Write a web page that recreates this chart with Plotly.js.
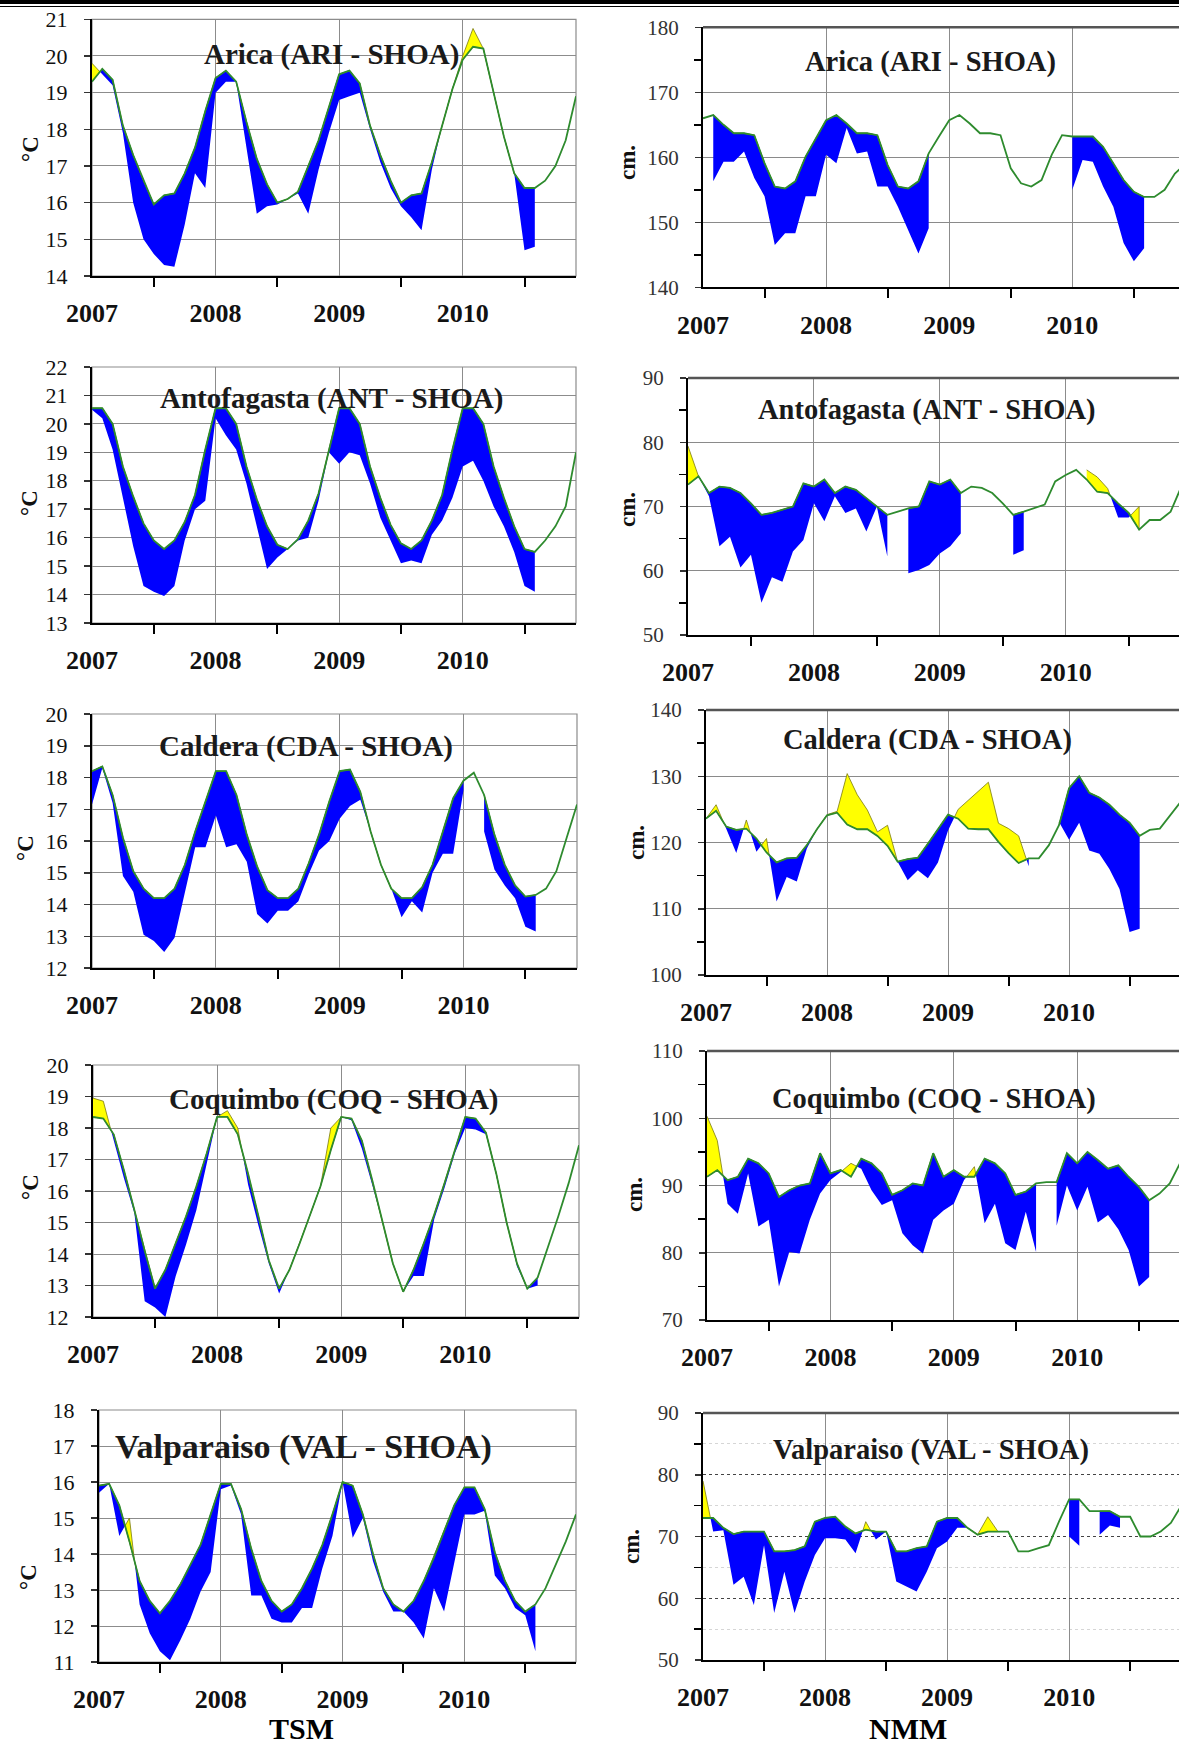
<!DOCTYPE html>
<html>
<head>
<meta charset="utf-8">
<script src="https://cdn.plot.ly/plotly-3.0.1.min.js"></script>
<style>
html,body{margin:0;padding:0;background:#fff;}
#chart{width:1179px;height:1747px;}
</style>
</head>
<body>
<div id="chart"></div>
<script>
// ---------- DATA ----------
// month index: 0 = Jan 2007 ... 47 = Dec 2010
const monthX = [0,1,2,3,4,5,6,7,8,9,10,11,12,13,14,15,16,17,18,19,20,21,22,23,24,25,26,27,28,29,30,31,32,33,34,35,36,37,38,39,40,41,42,43,44,45,46,47];
const yearTicks = [0,12,24,36];
const yearLabels = ['2007','2008','2009','2010'];
const midYearTicks = [6,18,30,42];

const stationTitles = ['Arica (ARI - SHOA)','Antofagasta (ANT - SHOA)','Caldera (CDA - SHOA)','Coquimbo (COQ - SHOA)','Valparaiso (VAL - SHOA)'];
const columnLabels = ['TSM','NMM'];
const unitTSM = '°C';
const unitNMM = 'cm.';

// ---- TSM (sea surface temperature, °C): climatology (green) and observed ----
const climAriTSM = [19.3,19.65,19.35,18.1,17.3,16.6,15.95,16.2,16.25,16.8,17.5,18.5,19.4,19.6,19.3,18.2,17.2,16.5,16.0,16.1,16.3,17.0,17.7,18.6,19.5,19.6,19.25,18.1,17.3,16.6,16.0,16.2,16.25,17.1,18.1,19.1,19.9,20.25,20.2,19.0,17.8,16.8,16.4,16.4,16.6,17.0,17.7,18.9];
const obsAriTSM  = [19.8,19.5,19.2,17.9,16.0,15.0,14.6,14.3,14.25,15.4,16.8,16.4,19.0,19.3,19.3,17.5,15.7,15.9,15.95,16.1,16.25,15.7,16.9,17.9,18.8,18.9,19.0,18.0,17.1,16.4,15.9,15.6,15.25,16.9,18.1,19.1,20.0,20.75,20.2,19.0,17.8,16.8,14.7,14.8,null,null,null,null];

const climAntTSM = [20.55,20.55,20.0,18.5,17.45,16.5,15.9,15.6,15.9,16.55,17.5,19.1,20.55,20.55,20.0,18.5,17.35,16.4,15.75,15.6,15.95,16.6,17.55,19.1,20.55,20.55,20.0,18.5,17.4,16.45,15.8,15.6,15.9,16.6,17.5,19.1,20.55,20.55,20.0,18.5,17.4,16.4,15.6,15.5,15.9,16.4,17.1,19.0];
const obsAntTSM  = [20.5,20.2,19.1,17.4,15.7,14.3,14.1,13.95,14.3,15.9,17.0,17.3,20.2,19.6,19.1,17.9,16.4,14.9,15.3,15.6,15.9,16.0,17.3,19.0,18.6,19.0,18.9,17.9,16.7,15.9,15.1,15.2,15.1,16.1,16.6,17.4,18.5,18.7,18.0,17.1,16.4,15.5,14.3,14.1,null,null,null,null];

const climCdaTSM = [18.2,18.35,17.45,16.1,15.05,14.5,14.2,14.2,14.5,15.25,16.3,17.25,18.2,18.2,17.45,16.2,15.2,14.45,14.2,14.2,14.5,15.3,16.2,17.25,18.2,18.25,17.55,16.3,15.25,14.5,14.2,14.2,14.55,15.25,16.3,17.35,17.9,18.15,17.45,16.2,15.25,14.6,14.25,14.3,14.5,15.05,16.1,17.15];
const obsCdaTSM  = [17.15,18.3,17.2,14.9,14.4,13.05,12.85,12.5,12.95,14.4,15.8,15.8,16.8,15.8,15.9,15.35,13.7,13.4,13.8,13.8,14.1,14.95,15.7,16.0,16.7,17.1,17.3,16.3,15.25,14.5,13.6,14.1,13.75,15.0,15.6,15.6,17.6,null,16.3,15.1,14.6,14.2,13.3,13.15,null,null,null,null];

const climCoqTSM = [18.35,18.3,17.8,16.65,15.4,14.1,12.9,13.5,14.35,15.2,16.15,17.2,18.35,18.35,17.8,16.55,15.2,13.8,12.9,13.5,14.35,15.25,16.15,17.3,18.35,18.3,17.6,16.35,15.0,13.7,12.8,13.5,14.35,15.25,16.25,17.3,18.35,18.3,17.85,16.55,15.0,13.7,12.9,13.25,14.2,15.2,16.25,17.45];
const obsCoqTSM  = [18.95,18.85,17.6,16.4,15.3,12.5,12.3,12.0,13.3,14.3,15.4,16.9,18.35,18.55,18.0,16.2,14.9,13.7,12.75,13.5,14.35,15.25,16.15,18.0,18.35,18.25,17.35,16.2,15.0,13.7,12.8,13.3,13.3,15.1,16.1,17.2,18.0,17.95,17.8,16.5,15.0,13.6,12.9,13.0,null,null,null,null];

const climValTSM = [15.9,15.95,15.35,14.35,13.25,12.7,12.35,12.7,13.15,13.7,14.25,15.1,15.95,15.95,15.25,14.15,13.25,12.7,12.4,12.6,13.05,13.6,14.25,15.1,16.0,15.9,15.1,14.0,13.05,12.6,12.4,12.7,13.25,13.9,14.65,15.35,15.85,15.85,15.25,14.05,13.25,12.7,12.4,12.6,13.05,13.7,14.35,15.1];
const obsValTSM  = [15.7,15.95,14.5,15.0,12.6,11.8,11.3,11.05,11.6,12.2,12.95,13.5,15.8,15.9,15.1,12.85,12.85,12.2,12.1,12.1,12.5,12.5,13.6,14.5,16.0,14.45,15.0,13.8,12.95,12.4,12.4,12.1,11.65,13.05,12.4,13.8,15.1,15.1,15.2,13.4,13.05,12.5,12.3,11.3,null,null,null,null];

// ---- NMM (mean sea level, cm): climatology (green) and observed ----
const climAriNMM = [166.0,166.5,165.0,163.7,163.7,163.4,159.1,155.5,155.2,156.3,160.1,162.9,165.7,166.5,165.2,163.7,163.7,163.4,158.8,155.5,155.2,156.3,160.6,163.2,165.7,166.5,165.2,163.7,163.7,163.4,158.3,156.0,155.5,156.5,160.4,163.4,163.2,163.2,163.2,161.6,159.1,156.5,154.7,153.9,153.9,155.0,157.5,159.0];
const obsAriNMM  = [null,156.3,159.3,159.3,160.9,156.8,154.0,146.5,148.3,148.3,154.0,154.0,160.4,159.1,164.5,160.6,160.9,155.5,155.5,152.4,148.8,145.2,149.1,null,null,null,null,null,null,null,null,null,null,null,null,null,155.0,159.6,159.3,155.5,152.4,146.8,144.0,146.0,null,null,null,null];

const climAntNMM = [73.4,74.7,72.1,73.1,72.9,72.1,70.5,68.7,69.0,69.5,70.0,73.6,73.1,74.2,72.1,73.1,72.6,71.3,70.0,68.7,69.2,69.7,70.0,73.9,73.4,74.2,72.1,73.1,72.9,72.1,70.5,68.7,69.2,69.7,70.3,73.9,74.9,75.7,74.2,72.3,72.1,70.5,69.0,66.4,67.9,67.9,69.2,73.0];
const obsAntNMM  = [79.4,74.7,71.6,63.8,65.3,60.5,62.5,55.0,59.0,58.3,63.0,64.8,70.5,67.7,71.6,69.0,69.7,66.1,70.0,62.2,null,59.6,60.1,60.9,62.7,63.8,65.8,null,null,null,null,62.5,63.2,null,null,null,null,null,75.7,74.6,72.8,68.3,68.3,70.0,null,null,null,null];

const climCdaNMM = [123.6,124.8,122.4,121.9,122.1,120.6,118.5,117.0,117.6,117.7,119.6,122.0,124.1,124.5,122.7,122.0,122.0,121.0,119.5,117.1,117.5,117.7,119.8,122.0,124.2,123.6,122.1,122.0,122.0,120.1,118.4,116.9,117.6,117.6,119.6,122.6,128.2,130.0,127.5,126.8,125.7,124.2,123.0,121.0,121.9,122.1,124.0,126.0];
const obsCdaNMM  = [123.6,125.7,122.1,118.4,123.4,118.6,120.6,111.1,114.8,114.1,119.1,122.0,124.2,124.7,130.4,127.2,124.9,121.6,122.6,117.1,114.3,115.8,114.6,117.0,121.8,125.0,126.4,127.8,129.1,122.9,122.1,121.0,116.4,null,null,123.1,120.4,123.0,118.8,118.3,116.0,113.0,106.5,107.0,null,null,null,null];

const climCoqNMM = [91.3,92.3,90.8,91.3,94.0,93.3,91.8,88.3,89.3,90.0,90.3,94.8,91.8,92.3,91.3,94.0,93.3,91.8,88.6,89.3,90.3,90.0,94.8,91.3,92.3,91.3,91.3,94.0,93.3,91.8,88.6,89.1,90.3,90.5,90.5,94.8,93.3,95.0,93.8,92.5,93.0,91.3,89.8,87.8,88.8,90.3,93.3,95.0];
const obsCoqNMM  = [100.3,96.7,87.3,85.8,91.8,83.9,84.9,75.0,80.1,79.9,84.9,88.8,90.8,92.0,93.3,92.5,89.3,87.1,87.8,82.9,81.1,79.9,84.9,86.3,87.3,90.8,92.8,84.4,87.3,81.4,80.4,86.1,80.1,null,84.0,90.0,86.3,89.8,84.5,85.6,83.5,80.4,75.0,76.4,null,null,null,null];

const climValNMM = [73.0,73.0,71.4,70.4,70.8,70.8,70.8,67.6,67.6,67.8,68.4,72.4,73.0,73.2,71.6,70.5,71.1,70.8,70.8,67.6,67.6,68.1,68.4,72.4,73.0,73.0,71.4,70.3,70.8,70.8,70.8,67.6,67.6,68.1,68.6,72.4,76.0,76.0,74.1,74.1,74.1,73.2,73.2,70.0,70.0,70.8,72.2,74.9];
const obsValNMM  = [79.0,70.8,71.0,62.2,63.5,58.9,68.6,57.6,64.3,57.6,62.7,67.0,69.7,69.7,69.5,67.3,72.4,69.5,70.8,62.7,61.9,61.1,64.3,68.1,69.2,71.4,71.4,70.3,73.2,70.8,null,null,null,null,null,null,70.0,68.5,null,70.3,71.8,71.4,null,null,null,null,null,null];

// ---------- LAYOUT GEOMETRY (pixels) ----------
const W = 1179, H = 1747;
const fx = p => p / W;
const fy = p => 1 - p / H;

const panels = [
  // left column (TSM)
  {clim: climAriTSM, obs: obsAriTSM, px:[92,576],  py:[19.3,276], yr:[14,21], dt:1, xr:[0,47], side:'L', t:[331,55],   tsz:29, u:[30,149]},
  {clim: climAntTSM, obs: obsAntTSM, px:[92,576],  py:[367,623],  yr:[13,22], dt:1, xr:[0,47], side:'L', t:[331,399],  tsz:29, u:[29,503]},
  {clim: climCdaTSM, obs: obsCdaTSM, px:[92,577],  py:[714,968],  yr:[12,20], dt:1, xr:[0,47], side:'L', t:[306,746],  tsz:29, u:[25,848]},
  {clim: climCoqTSM, obs: obsCoqTSM, px:[93,579],  py:[1065,1317],yr:[12,20], dt:1, xr:[0,47], side:'L', t:[334,1099], tsz:29, u:[30,1187]},
  {clim: climValTSM, obs: obsValTSM, px:[99,576],  py:[1410,1662],yr:[11,18], dt:1, xr:[0,47], side:'L', t:[303,1447], tsz:34, u:[28,1577]},
  // right column (NMM)
  {clim: climAriNMM, obs: obsAriNMM, px:[703,1179],py:[27.3,287.3],yr:[140,180],dt:10, xr:[0,46.4], side:'R', t:[930,62],   tsz:28.5, u:[627,163]},
  {clim: climAntNMM, obs: obsAntNMM, px:[688,1179],py:[378,635],  yr:[50,90],  dt:10, xr:[0,46.8], side:'R', t:[927,410],  tsz:28.5, u:[627,510]},
  {clim: climCdaNMM, obs: obsCdaNMM, px:[706,1179],py:[710,975],  yr:[100,140],dt:10, xr:[0,46.9], side:'R', t:[927,740],  tsz:28.5, u:[636,843]},
  {clim: climCoqNMM, obs: obsCoqNMM, px:[707,1179],py:[1051,1320],yr:[70,110], dt:10, xr:[0,45.9], side:'R', t:[934,1099], tsz:28.5, u:[634,1195]},
  {clim: climValNMM, obs: obsValNMM, px:[703,1179],py:[1413,1660],yr:[50,90],  dt:10, xr:[0,46.8], side:'R', t:[931,1450], tsz:28.5, u:[631,1547], dotted:true}
];

const BLUE = '#0000ff', YELLOW = '#ffff00', GREEN = '#2e8b2e';
const SERIF = 'Liberation Serif, Times New Roman, serif';

function panelTraces(xa, ya, clim, obs) {
  const traces = [];
  const segs = [];
  let seg = [];
  for (let i = 0; i < obs.length; i++) {
    if (obs[i] === null) { if (seg.length) segs.push(seg); seg = []; }
    else seg.push(i);
  }
  if (seg.length) segs.push(seg);
  segs.forEach(s => {
    if (s.length < 2) return;
    const X = [], O = [], C = [];
    for (let k = 0; k < s.length; k++) {
      const i = s[k];
      if (k > 0) {
        const j = s[k - 1];
        const d0 = obs[j] - clim[j], d1 = obs[i] - clim[i];
        if (d0 * d1 < 0) {
          const t = d0 / (d0 - d1);
          const xc = monthX[j] + t * (monthX[i] - monthX[j]);
          const yc = clim[j] + t * (clim[i] - clim[j]);
          X.push(xc); O.push(yc); C.push(yc);
        }
      }
      X.push(monthX[i]); O.push(obs[i]); C.push(clim[i]);
    }
    const lo = O.map((v, k) => Math.min(v, C[k]));
    const hi = O.map((v, k) => Math.max(v, C[k]));
    const Xr = X.slice().reverse(), Cr = C.slice().reverse();
    traces.push({type:'scatter', mode:'lines', x: X.concat(Xr), y: lo.concat(Cr), fill:'toself',
      fillcolor: BLUE, line:{width:0, color:BLUE}, xaxis:xa, yaxis:ya, hoverinfo:'skip'});
    traces.push({type:'scatter', mode:'lines', x: X.concat(Xr), y: hi.concat(Cr), fill:'toself',
      fillcolor: YELLOW, line:{width:0.8, color:'#7a7a10'}, xaxis:xa, yaxis:ya, hoverinfo:'skip'});
  });
  traces.push({type:'scatter', mode:'lines', x: monthX, y: clim, line:{color:GREEN, width:1.8},
    xaxis:xa, yaxis:ya, hoverinfo:'skip'});
  return traces;
}

const data = [];
const layout = {
  width: W, height: H, margin:{l:0,r:0,t:0,b:0}, paper_bgcolor:'#fff', plot_bgcolor:'#fff',
  showlegend:false, shapes:[], annotations:[]
};

panels.forEach((p, k) => {
  const n = k + 1;
  const xa = 'x' + n, ya = 'y' + n;
  data.push(...panelTraces(xa, ya, p.clim, p.obs));
  const isL = p.side === 'L';
  layout['xaxis' + n] = {
    domain:[fx(p.px[0]), fx(p.px[1])], range:p.xr, anchor: ya,
    tickmode:'array', tickvals: yearTicks, ticktext: yearLabels, ticks:'',
    showgrid:true, gridcolor:'#8c8c8c', gridwidth:1, zeroline:false,
    showline:true, linecolor:'#000', linewidth:2,
    tickfont:{family:SERIF, size:26, color:'#111', weight:'bold'}, ticklabelstandoff:13,
    minor:{tickmode:'array', tickvals: midYearTicks, ticks:'outside', ticklen:9, tickwidth:2, tickcolor:'#000', showgrid:false},
    fixedrange:true
  };
  const yax = {
    domain:[fy(p.py[1]), fy(p.py[0])], range:p.yr, anchor: xa,
    tickmode:'linear', tick0:0, dtick:p.dt, ticks:'outside', ticklen:6, tickcolor:'#333', tickwidth:1.5,
    showgrid:true, gridcolor: isL ? '#8c8c8c' : '#8a8a8a', gridwidth:1, zeroline:false,
    showline:true, linecolor:'#000', linewidth:2,
    tickfont:{family:SERIF, size: isL ? 22 : 21, color: isL ? '#111' : '#333'}, ticklabelstandoff:12,
    fixedrange:true
  };
  if (!isL) {
    yax.minor = {dtick:5, tick0:5, ticks:'outside', ticklen:7, tickwidth:1.5, tickcolor:'#000', showgrid:false};
  }
  if (p.dotted) {
    yax.griddash = 'dot'; yax.gridcolor = '#444';
    yax.minor.showgrid = true; yax.minor.gridcolor = '#d6d6d6'; yax.minor.gridwidth = 1;
  }
  layout['yaxis' + n] = yax;

  if (isL) {
    layout.shapes.push({type:'rect', xref: xa + ' domain', yref: ya + ' domain', x0:0, x1:1, y0:0, y1:1,
      line:{color:'#8c8c8c', width:1.2}, layer:'below'});
  } else {
    layout.shapes.push({type:'line', xref: xa + ' domain', yref: ya + ' domain', x0:0, x1:1, y0:1, y1:1,
      line:{color:'#555', width:2.5}, layer:'above'});
  }

  layout.annotations.push({text: stationTitles[k % 5], xref:'paper', yref:'paper', x: fx(p.t[0]), y: fy(p.t[1]),
    xanchor:'center', yanchor:'middle', showarrow:false,
    font:{family:SERIF, size:p.tsz, color:'#1a1a1a', weight:'bold'}});
  layout.annotations.push({text: isL ? unitTSM : unitNMM, xref:'paper', yref:'paper', x: fx(p.u[0]), y: fy(p.u[1]),
    xanchor:'center', yanchor:'middle', showarrow:false, textangle:-90,
    font:{family:SERIF, size:23, color:'#111', weight:'bold'}});
});

// column captions
layout.annotations.push({text: columnLabels[0], xref:'paper', yref:'paper', x: fx(301), y: 0,
  xanchor:'center', yanchor:'bottom', showarrow:false, font:{family:SERIF, size:30, color:'#000', weight:'bold'}});
layout.annotations.push({text: columnLabels[1], xref:'paper', yref:'paper', x: fx(908), y: 0,
  xanchor:'center', yanchor:'bottom', showarrow:false, font:{family:SERIF, size:30, color:'#000', weight:'bold'}});

// double rule at top of page
layout.shapes.push({type:'rect', xref:'paper', yref:'paper', x0:0, x1:1, y0:fy(4), y1:1, fillcolor:'#000', line:{width:0}});
layout.shapes.push({type:'line', xref:'paper', yref:'paper', x0:0, x1:1, y0:fy(6.5), y1:fy(6.5), line:{color:'#000', width:1.2}});

Plotly.newPlot('chart', data, layout, {staticPlot:true, displayModeBar:false});
</script>
</body>
</html>
